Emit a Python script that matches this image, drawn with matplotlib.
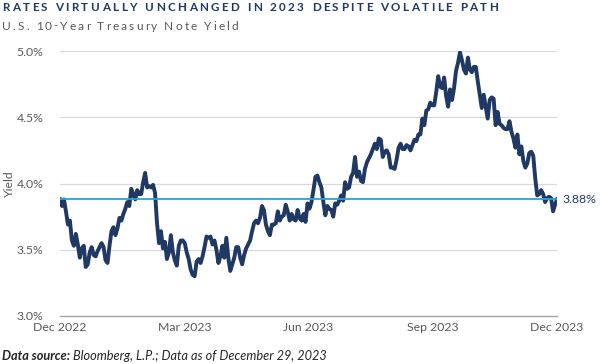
import numpy as np
import matplotlib
matplotlib.use("Agg")
from matplotlib import pyplot as plt

# 10-year treasury yield (%), daily closes from Dec 28 2022 to Dec 29 2023
yields_dec22 = [3.88, 3.83, 3.88]
yields_jan = [3.79, 3.69, 3.72, 3.57, 3.53, 3.62, 3.54, 3.44, 3.51, 3.53, 3.37, 3.39, 3.48, 3.52,
              3.46, 3.45, 3.49, 3.52, 3.55, 3.52]
yields_feb = [3.42, 3.40, 3.53, 3.64, 3.67, 3.61, 3.66, 3.74, 3.72, 3.77, 3.81, 3.86, 3.83, 3.96,
              3.92, 3.88, 3.95, 3.92, 3.92]
yields_mar = [4.01, 4.08, 3.97, 3.98, 3.97, 3.99, 3.93, 3.70, 3.55, 3.64, 3.51, 3.56, 3.43, 3.48,
              3.61, 3.48, 3.42, 3.38, 3.53, 3.57, 3.57, 3.55, 3.48]
yields_apr = [3.43, 3.35, 3.31, 3.30, 3.41, 3.43, 3.40, 3.45, 3.52, 3.60, 3.59, 3.60, 3.54, 3.57,
              3.50, 3.40, 3.45, 3.53, 3.44]
yields_may = [3.59, 3.44, 3.34, 3.39, 3.44, 3.52, 3.52, 3.44, 3.39, 3.46, 3.51, 3.54, 3.57, 3.64,
              3.70, 3.72, 3.70, 3.74, 3.83, 3.80, 3.69, 3.64]
yields_jun = [3.61, 3.69, 3.69, 3.70, 3.79, 3.72, 3.75, 3.76, 3.84, 3.79, 3.72, 3.77, 3.73, 3.72,
              3.80, 3.74, 3.72, 3.77, 3.71, 3.85, 3.81]
yields_jul = [3.86, 3.95, 4.05, 4.06, 4.01, 3.97, 3.86, 3.76, 3.83, 3.81, 3.80, 3.75, 3.85, 3.84,
              3.87, 3.91, 3.87, 4.01, 3.96, 3.97]
yields_aug = [4.05, 4.08, 4.20, 4.05, 4.09, 4.02, 4.01, 4.11, 4.16, 4.19, 4.22, 4.26, 4.30, 4.26,
              4.34, 4.33, 4.20, 4.24, 4.25, 4.22, 4.12, 4.12, 4.11]
yields_sep = [4.18, 4.27, 4.30, 4.26, 4.26, 4.29, 4.28, 4.25, 4.29, 4.33, 4.32, 4.37, 4.37, 4.49,
              4.44, 4.55, 4.56, 4.61, 4.59, 4.59]
yields_oct = [4.69, 4.81, 4.73, 4.72, 4.80, 4.66, 4.58, 4.71, 4.63, 4.72, 4.85, 4.91, 4.99, 4.93,
              4.86, 4.83, 4.95, 4.86, 4.84, 4.88, 4.88]
yields_nov = [4.77, 4.67, 4.57, 4.67, 4.58, 4.49, 4.63, 4.65, 4.64, 4.44, 4.54, 4.45, 4.44, 4.42,
              4.41, 4.41, 4.47, 4.39, 4.34, 4.27, 4.37]
yields_dec = [4.22, 4.28, 4.17, 4.12, 4.15, 4.23, 4.24, 4.21, 4.04, 3.91, 3.92, 3.95, 3.92, 3.86,
              3.89, 3.90, 3.89, 3.79, 3.84, 3.88]

reference_level = 3.88
x_tick_labels = ["Dec 2022", "Mar 2023", "Jun 2023", "Sep 2023", "Dec 2023"]
y_ticks = [3.0, 3.5, 4.0, 4.5, 5.0]

TITLE = "RATES VIRTUALLY UNCHANGED IN 2023 DESPITE VOLATILE PATH"
SUBTITLE = "U.S. 10-Year Treasury Note Yield"
SOURCE_BOLD = "Data source:"
SOURCE_REST = " Bloomberg, L.P.; Data as of December 29, 2023"

NAVY = "#1f3864"
BLUE = "#1ea7e1"
GRAY = "#595959"

W, H = 600, 364

yields = np.array(yields_dec22 + yields_jan + yields_feb + yields_mar + yields_apr + yields_may
                  + yields_jun + yields_jul + yields_aug + yields_sep + yields_oct + yields_nov
                  + yields_dec)
x = np.arange(len(yields))

plt.rcParams["font.family"] = ["Lato", "DejaVu Sans"]

fig = plt.figure(figsize=(W / 100, H / 100), dpi=100)
ax = fig.add_axes([60 / W, 1 - 316 / H, (557 - 60) / W, (316 - 51) / H])

ax.plot(x, yields, color=NAVY, linewidth=2.8, solid_joinstyle="round", zorder=3)
ax.axhline(reference_level, color=BLUE, linewidth=1.3, zorder=4)
ax.text(1.012, reference_level, f"{reference_level:.2f}%", transform=ax.get_yaxis_transform(),
        color=NAVY, fontsize=8.8, va="center", ha="left")

ax.set_xlim(0, len(yields) - 1)
ax.set_ylim(3.0, 5.0)
ax.set_yticks(y_ticks)
ax.set_yticklabels([f"{v:.1f}%" for v in y_ticks])
ax.set_xticks(np.linspace(0, len(yields) - 1, len(x_tick_labels)))
ax.set_xticklabels(x_tick_labels)

for v in y_ticks[1:]:
    ax.axhline(v, color="#d9d9d9", linewidth=0.9, zorder=1)
for side in ["top", "right", "left"]:
    ax.spines[side].set_visible(False)
ax.spines["bottom"].set_color("#a6a6a6")
ax.spines["bottom"].set_linewidth(1.0)
ax.tick_params(axis="both", length=0, colors=GRAY, labelsize=8.8)
ax.tick_params(axis="y", pad=12)
ax.tick_params(axis="x", pad=4)
ax.set_ylabel("Yield", color=GRAY, fontsize=8.8, labelpad=1)

renderer = fig.canvas.get_renderer()


def text_width(s, **kw):
    probe = fig.text(0, 0, "||" + s, **kw)
    prop = probe.get_fontproperties()
    probe.remove()
    bar_w = renderer.get_text_width_height_descent("||", prop, ismath=False)[0]
    return renderer.get_text_width_height_descent("|" + s + "|", prop, ismath=False)[0] - bar_w


def spaced_text(s, x0, x1, baseline, **kw):
    # letter spaced text stretched between x0 and x1 (pixels)
    widths = [text_width(c, **kw) for c in s]
    gap = (x1 - x0 - sum(widths)) / (len(s) - 1)
    pos = x0
    for c, w in zip(s, widths):
        fig.text(pos / W, 1 - baseline / H, c, va="baseline", ha="left", **kw)
        pos += w + gap


spaced_text(TITLE, 2, 498, 11, fontsize=8.4, fontweight="bold", color=NAVY)
spaced_text(SUBTITLE, 2, 238, 29.5, fontsize=8.6, color=GRAY)

src_style = dict(fontsize=9.2, fontstyle="italic", color="#262626")
fig.text(2 / W, 1 - 360 / H, SOURCE_BOLD, fontweight="bold", va="baseline", ha="left", **src_style)
bold_w = text_width(SOURCE_BOLD, fontweight="bold", **src_style)
fig.text((2 + bold_w) / W, 1 - 360 / H, SOURCE_REST, va="baseline", ha="left", **src_style)

fig.savefig("out.png", dpi=100)
